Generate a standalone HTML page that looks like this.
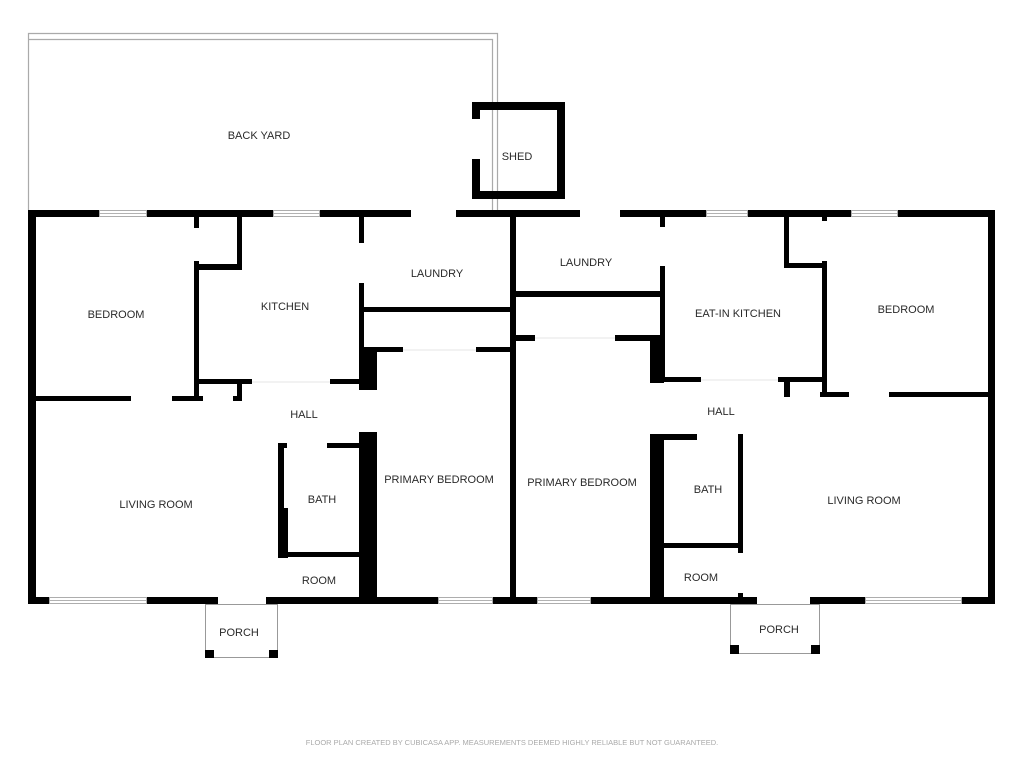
<!DOCTYPE html>
<html><head><meta charset="utf-8"><style>
html,body{margin:0;padding:0;background:#fff;}
svg{display:block;}
text{font-family:"Liberation Sans",sans-serif;font-size:11px;fill:#2a2a2a;text-anchor:middle;}
</style></head><body>
<svg width="1024" height="768" viewBox="0 0 1024 768" xmlns="http://www.w3.org/2000/svg">
<!-- back yard -->
<g fill="none" stroke="#aaa" stroke-width="1.2">
<polyline points="28.5,210 28.5,33.5 497.5,33.5 497.5,210"/>
<polyline points="28.5,39.5 492.5,39.5 492.5,210"/>
</g>
<!-- shed -->
<g fill="#000">
<rect x="472" y="102" width="93" height="8"/>
<rect x="472" y="191" width="93" height="8"/>
<rect x="557" y="102" width="8" height="97"/>
<rect x="472" y="102" width="8" height="17"/>
<rect x="472" y="159" width="8" height="40"/>
</g>
<g fill="#000">
<!-- outer walls -->
<rect x="28" y="210" width="71" height="7"/>
<rect x="147" y="210" width="126" height="7"/>
<rect x="320" y="210" width="91" height="7"/>
<rect x="456" y="210" width="124" height="7"/>
<rect x="620" y="210" width="86" height="7"/>
<rect x="748" y="210" width="103" height="7"/>
<rect x="898" y="210" width="97" height="7"/>
<rect x="28" y="210" width="8" height="394"/>
<rect x="988" y="210" width="7" height="394"/>
<rect x="28" y="597" width="21" height="7"/>
<rect x="147" y="597" width="71" height="7"/>
<rect x="266" y="597" width="172" height="7"/>
<rect x="493" y="597" width="44" height="7"/>
<rect x="591" y="597" width="166" height="7"/>
<rect x="810" y="597" width="55" height="7"/>
<rect x="962" y="597" width="33" height="7"/>
<!-- center wall -->
<rect x="510" y="210" width="6" height="394"/>
<!-- left unit -->
<rect x="194" y="217" width="5" height="11"/>
<rect x="194" y="261" width="5" height="140"/>
<rect x="237" y="217" width="5" height="53"/>
<rect x="194" y="264" width="48" height="6"/>
<rect x="359" y="217" width="5" height="26"/>
<rect x="359" y="283" width="5" height="107"/>
<rect x="363" y="307" width="147" height="5"/>
<rect x="363" y="347" width="40" height="5"/>
<rect x="476" y="347" width="34" height="5"/>
<rect x="359" y="347" width="18" height="43"/>
<rect x="199" y="379" width="53" height="5"/>
<rect x="330" y="379" width="33" height="5"/>
<rect x="237" y="379" width="5" height="21"/>
<rect x="36" y="396" width="95" height="5"/>
<rect x="172" y="396" width="31" height="5"/>
<rect x="233" y="396" width="9" height="5"/>
<rect x="359" y="432" width="18" height="168"/>
<rect x="278" y="443" width="6" height="115"/>
<rect x="278" y="508" width="10" height="50"/>
<rect x="278" y="443" width="9" height="5"/>
<rect x="327" y="443" width="32" height="5"/>
<rect x="284" y="552" width="75" height="5"/>
<!-- right unit -->
<rect x="516" y="291" width="144" height="6"/>
<rect x="516" y="335" width="19" height="6"/>
<rect x="615" y="335" width="45" height="6"/>
<rect x="660" y="217" width="5" height="10"/>
<rect x="660" y="266" width="5" height="116"/>
<rect x="650" y="338" width="14" height="45"/>
<rect x="664" y="377" width="37" height="5"/>
<rect x="778" y="377" width="49" height="5"/>
<rect x="784" y="377" width="6" height="20"/>
<rect x="784" y="217" width="5" height="51"/>
<rect x="784" y="263" width="42" height="5"/>
<rect x="822" y="217" width="5" height="4"/>
<rect x="822" y="261" width="5" height="136"/>
<rect x="820" y="392" width="29" height="5"/>
<rect x="889" y="392" width="99" height="5"/>
<rect x="650" y="434" width="14" height="166"/>
<rect x="664" y="434" width="33" height="6"/>
<rect x="738" y="434" width="5" height="119"/>
<rect x="738" y="593" width="5" height="7"/>
<rect x="664" y="543" width="76" height="5"/>
</g>
<!-- windows -->
<g fill="#fff" stroke="#999" stroke-width="0.8">
<rect x="99.5" y="210.5" width="47" height="6"/><line x1="99.5" y1="213.5" x2="146.5" y2="213.5"/>
<rect x="273.5" y="210.5" width="46" height="6"/><line x1="273.5" y1="213.5" x2="319.5" y2="213.5"/>
<rect x="706.5" y="210.5" width="41" height="6"/><line x1="706.5" y1="213.5" x2="747.5" y2="213.5"/>
<rect x="851.5" y="210.5" width="46" height="6"/><line x1="851.5" y1="213.5" x2="897.5" y2="213.5"/>
<rect x="49.5" y="597.5" width="97" height="6"/><line x1="49.5" y1="600.5" x2="146.5" y2="600.5"/>
<rect x="438.5" y="597.5" width="54" height="6"/><line x1="438.5" y1="600.5" x2="492.5" y2="600.5"/>
<rect x="537.5" y="597.5" width="53" height="6"/><line x1="537.5" y1="600.5" x2="590.5" y2="600.5"/>
<rect x="865.5" y="597.5" width="96" height="6"/><line x1="865.5" y1="600.5" x2="961.5" y2="600.5"/>
</g>
<!-- door thresholds faint -->
<g fill="none" stroke="#e6e6e6" stroke-width="1">
<line x1="403" y1="350" x2="476" y2="350"/><line x1="535" y1="338" x2="615" y2="338"/>
<line x1="252" y1="382" x2="330" y2="382"/><line x1="701" y1="380" x2="778" y2="380"/>
</g>
<!-- porches -->
<g fill="none" stroke="#999" stroke-width="1">
<rect x="205.5" y="604.5" width="72" height="53"/>
<rect x="730.5" y="604.5" width="89" height="49"/>
</g>
<g fill="#000">
<rect x="205" y="650" width="9" height="8"/><rect x="269" y="650" width="9" height="8"/>
<rect x="730" y="645" width="9" height="9"/><rect x="811" y="645" width="9" height="9"/>
</g>
<!-- labels -->
<text x="259" y="139">BACK YARD</text>
<text x="517" y="160">SHED</text>
<text x="116" y="318">BEDROOM</text>
<text x="285" y="310">KITCHEN</text>
<text x="437" y="277">LAUNDRY</text>
<text x="304" y="418">HALL</text>
<text x="156" y="508">LIVING ROOM</text>
<text x="322" y="503">BATH</text>
<text x="319" y="584">ROOM</text>
<text x="439" y="483">PRIMARY BEDROOM</text>
<text x="239" y="636">PORCH</text>
<text x="586" y="266">LAUNDRY</text>
<text x="738" y="317">EAT-IN KITCHEN</text>
<text x="906" y="313">BEDROOM</text>
<text x="721" y="415">HALL</text>
<text x="582" y="486">PRIMARY BEDROOM</text>
<text x="708" y="493">BATH</text>
<text x="864" y="504">LIVING ROOM</text>
<text x="701" y="581">ROOM</text>
<text x="779" y="633">PORCH</text>
<text x="512" y="745" style="font-size:7.5px;fill:#aaa">FLOOR PLAN CREATED BY CUBICASA APP. MEASUREMENTS DEEMED HIGHLY RELIABLE BUT NOT GUARANTEED.</text>
</svg>
</body></html>
